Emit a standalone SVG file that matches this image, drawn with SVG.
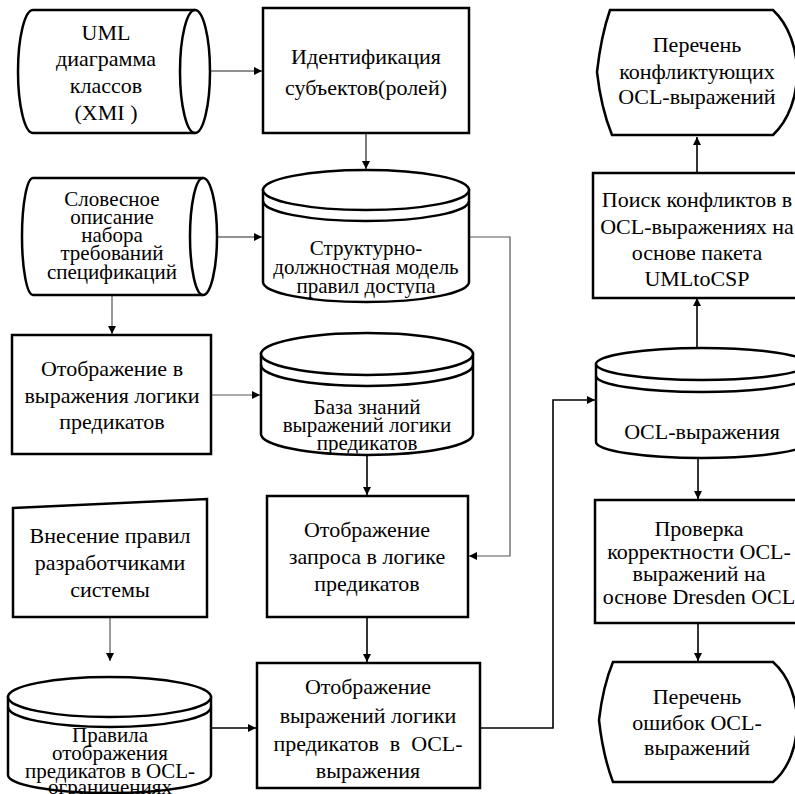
<svg xmlns="http://www.w3.org/2000/svg" width="795" height="794" viewBox="0 0 795 794" font-family="'Liberation Serif', 'DejaVu Serif', serif">
<defs>
<marker id="ah" viewBox="0 0 10 10" refX="10" refY="5" markerWidth="9" markerHeight="8" markerUnits="userSpaceOnUse" orient="auto">
<path d="M0,0 L10,5 L0,10 Z" fill="#000"/>
</marker>
</defs>
<style>
.n{fill:#fff;stroke:#000;stroke-width:2.5}
.l{fill:none;stroke:#000;stroke-width:2.5}
.t{font-family:'Liberation Serif','DejaVu Serif',serif;font-size:22px;fill:#000;text-anchor:middle}
.s{font-size:21px}
.c{fill:none;stroke:#222;stroke-width:1.2}
.g{fill:none;stroke:#555;stroke-width:1.2}
.b{fill:none;stroke:#000;stroke-width:1.6}
</style>
<rect width="795" height="794" fill="#fff"/>

<g id="connectors">
<path class="c" d="M210,71 H262" marker-end="url(#ah)"/>
<path class="c" d="M366,133 V169" marker-end="url(#ah)"/>
<path class="c" d="M217,237 H262" marker-end="url(#ah)"/>
<path class="g" d="M112,295 V334" marker-end="url(#ah)"/>
<path class="g" d="M211,395 H260" marker-end="url(#ah)"/>
<path class="g" d="M469,237 H510 V556 H469" marker-end="url(#ah)"/>
<path class="b" d="M367,455 V495" marker-end="url(#ah)"/>
<path class="g" d="M110,617 V661" marker-end="url(#ah)"/>
<path class="b" d="M367,617 V662" marker-end="url(#ah)"/>
<path class="b" d="M211,728 H256" marker-end="url(#ah)"/>
<path class="b" d="M480,728 H553 V400 H595" marker-end="url(#ah)"/>
<path class="b" d="M697,348 V298" marker-end="url(#ah)"/>
<path class="b" d="M697,173 V137" marker-end="url(#ah)"/>
<path class="b" d="M698,458 V499" marker-end="url(#ah)"/>
<path class="b" d="M698,623 V661" marker-end="url(#ah)"/>
</g>

<g id="n1">
<path class="n" d="M33,10 L195,10 A15,61.5 0 0 1 195,133 L33,133 A15,61.5 0 0 1 33,10 Z"/>
<path class="l" d="M195,10 A15,61.5 0 0 0 195,133"/>
<text class="t" x="106" y="40">UML</text>
<text class="t" x="106" y="66">диаграмма</text>
<text class="t" x="106" y="93">классов</text>
<text class="t" x="106" y="120">(XMI )</text>
</g>

<g id="n2">
<rect class="n" x="263" y="8" width="206" height="125"/>
<text class="t" x="366" y="64">Идентификация</text>
<text class="t" x="366" y="95">субъектов(ролей)</text>
</g>

<g id="n3">
<path class="n" d="M263,190 L263,282 A103,20 0 0 0 469,282 L469,190 Z"/>
<ellipse class="n" cx="366" cy="190" rx="103" ry="20"/>
<path class="l" d="M263,201 A103,20 0 0 0 469,201"/>
<text class="t s" x="366" y="255">Структурно-</text>
<text class="t s" x="366" y="274">должностная модель</text>
<text class="t s" x="366" y="293">правил доступа</text>
</g>

<g id="n4">
<path class="n" d="M33,178 L203,178 A14,58.5 0 0 1 203,295 L33,295 A11,58.5 0 0 1 33,178 Z"/>
<path class="l" d="M203,178 A13,58.5 0 0 0 203,295"/>
<text class="t s" x="112" y="206">Словесное</text>
<text class="t s" x="112" y="224">описание</text>
<text class="t s" x="112" y="242">набора</text>
<text class="t s" x="112" y="260">требований</text>
<text class="t s" x="112" y="279">спецификаций</text>
</g>

<g id="n6">
<rect class="n" x="12" y="335" width="199" height="119"/>
<text class="t" x="112" y="376">Отображение в</text>
<text class="t" x="112" y="403">выражения логики</text>
<text class="t" x="112" y="429">предикатов</text>
</g>

<g id="n7">
<path class="n" d="M261,354 L261,434 A106,21 0 0 0 473,434 L473,354 Z"/>
<ellipse class="n" cx="367" cy="354" rx="106" ry="21"/>
<path class="l" d="M261,365 A106,21 0 0 0 473,365"/>
<text class="t s" x="367" y="414">База знаний</text>
<text class="t s" x="367" y="432">выражений логики</text>
<text class="t s" x="367" y="450">предикатов</text>
</g>

<g id="n5">
<rect class="n" x="267" y="496" width="201" height="121"/>
<text class="t" x="367" y="537">Отображение</text>
<text class="t" x="367" y="564">запроса в логике</text>
<text class="t" x="367" y="591">предикатов</text>
</g>

<g id="n8">
<path class="n" d="M13,508 L207,499 L207,617 L13,617 Z"/>
<text class="t" x="110" y="543">Внесение правил</text>
<text class="t" x="110" y="570">разработчиками</text>
<text class="t" x="110" y="597">системы</text>
</g>

<g id="n10">
<path class="n" d="M8,697 L8,775 A101.5,18 0 0 0 211,775 L211,697 Z"/>
<ellipse class="n" cx="109.5" cy="697" rx="101.5" ry="20"/>
<path class="l" d="M8,707 A101.5,20 0 0 0 211,707"/>
<text class="t s" x="110" y="742">Правила</text>
<text class="t s" x="110" y="760">отображения</text>
<text class="t s" x="110" y="778">предикатов в OCL-</text>
<text class="t s" x="110" y="794">ограничениях</text>
</g>

<g id="n9">
<rect class="n" x="257" y="663" width="223" height="125"/>
<text class="t" x="368" y="694">Отображение</text>
<text class="t" x="368" y="723">выражений логики</text>
<text class="t" x="368" y="751" xml:space="preserve">предикатов  в  OCL-</text>
<text class="t" x="368" y="778">выражения</text>
</g>

<g id="n11">
<path class="n" d="M596,364 L596,442 A106,16 0 0 0 808,442 L808,364 Z"/>
<ellipse class="n" cx="702" cy="364" rx="106" ry="16"/>
<path class="l" d="M596,376 A106,16 0 0 0 808,376"/>
<text class="t" x="702" y="439">OCL-выражения</text>
</g>

<g id="n12">
<rect class="n" x="593" y="173" width="215" height="125"/>
<text class="t" x="697" y="207">Поиск конфликтов в</text>
<text class="t" x="697" y="234">OCL-выражениях на</text>
<text class="t" x="697" y="260">основе пакета</text>
<text class="t" x="697" y="286">UMLtoCSP</text>
</g>

<g id="n13">
<path class="n" d="M610,10 L773,10 C805,40 805,105 773,135 L612,135 Q601,108 597,72 Q601,36 610,10 Z"/>
<text class="t" x="697" y="52">Перечень</text>
<text class="t" x="697" y="79">конфликтующих</text>
<text class="t" x="697" y="104">OCL-выражений</text>
</g>

<g id="n14">
<rect class="n" x="595" y="500" width="213" height="123"/>
<text class="t" x="699" y="536">Проверка</text>
<text class="t" x="699" y="559">корректности OCL-</text>
<text class="t" x="699" y="581">выражений на</text>
<text class="t" x="699" y="604">основе Dresden OCL</text>
</g>

<g id="n15">
<path class="n" d="M613,662 L773,662 C805,690 805,755 773,782 L613,782 Q603,756 599,720 Q603,686 613,662 Z"/>
<text class="t" x="697" y="704">Перечень</text>
<text class="t" x="697" y="730">ошибок OCL-</text>
<text class="t" x="697" y="755">выражений</text>
</g>
</svg>
